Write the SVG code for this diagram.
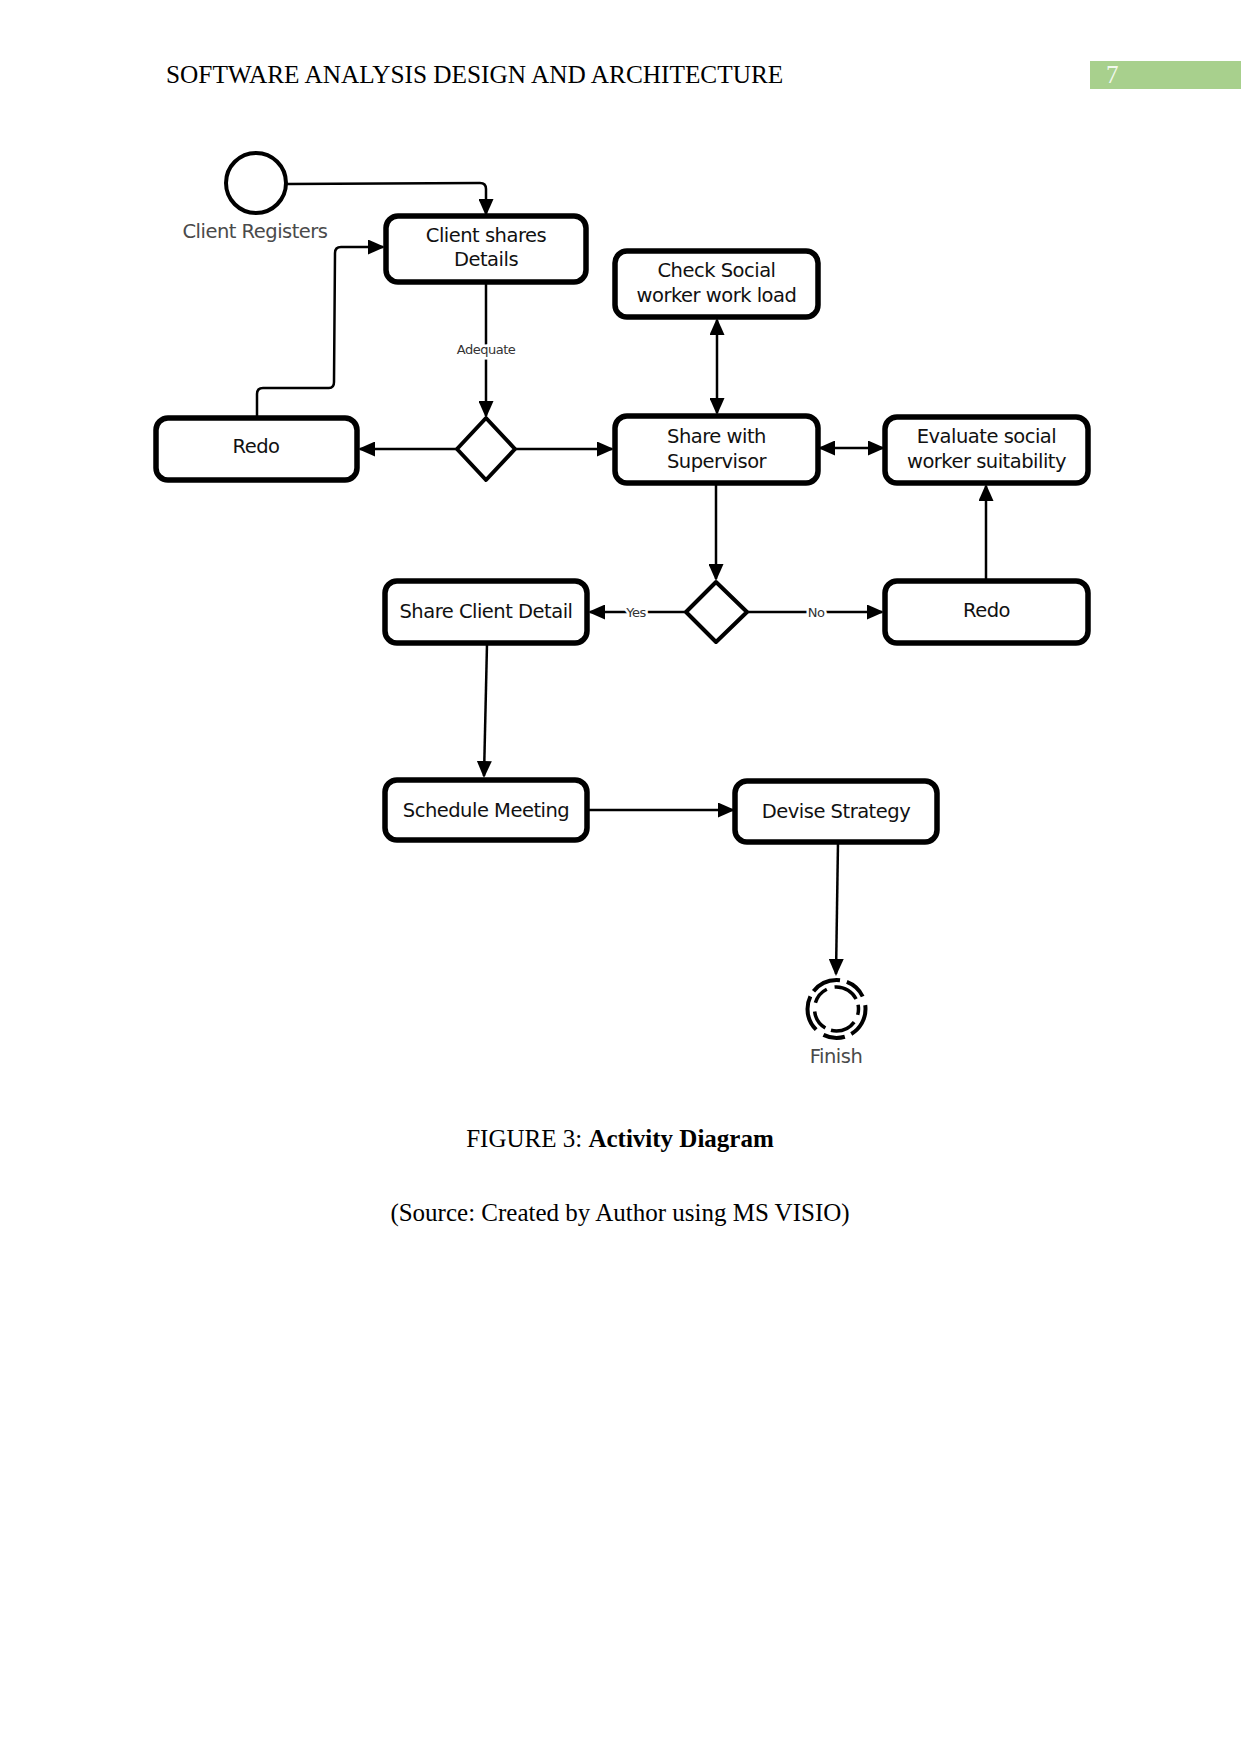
<svg xmlns="http://www.w3.org/2000/svg" width="1241" height="1754" viewBox="0 0 1241 1754">
<style>
.page{fill:#ffffff}
.hdr{font-family:"Liberation Serif","Times New Roman",serif;font-size:25.3px;fill:#000}
.cap{font-family:"Liberation Serif","Times New Roman",serif;font-size:25px;fill:#000;text-anchor:middle}
.box{fill:#fff;stroke:#000;stroke-width:5.5;stroke-linejoin:round}
.dia{fill:#fff;stroke:#000;stroke-width:4;stroke-linejoin:round}
.lbl{font-family:"DejaVu Sans",Verdana,sans-serif;font-size:19.5px;letter-spacing:-0.5px;fill:#111;text-anchor:middle}
.glbl{font-family:"DejaVu Sans",Verdana,sans-serif;font-size:19.5px;letter-spacing:-0.5px;fill:#4a4a4a;text-anchor:middle}
.small{font-family:"DejaVu Sans",Verdana,sans-serif;font-size:13px;letter-spacing:-0.5px;fill:#333;text-anchor:middle;paint-order:stroke;stroke:#fff;stroke-width:5px}
.ln{fill:none;stroke:#000;stroke-width:2.5;stroke-linejoin:round;stroke-linecap:butt}
.arr{marker-end:url(#ah)}
.bi{marker-end:url(#ah);marker-start:url(#ah)}
</style>
<defs>
<marker id="ah" viewBox="0 0 17 15" refX="15" refY="7.5" markerWidth="17" markerHeight="15" markerUnits="userSpaceOnUse" orient="auto-start-reverse">
<path d="M0,0 L17,7.5 L0,15 z" fill="#000"/>
</marker>
</defs>
<rect class="page" x="0" y="0" width="1241" height="1754"/>

<g id="header">
<text class="hdr" x="166" y="83">SOFTWARE ANALYSIS DESIGN AND ARCHITECTURE</text>
<rect x="1090" y="61" width="151" height="28" fill="#a8d08d"/>
<text x="1106" y="83" font-family="Liberation Serif, serif" font-size="25" fill="#f2f8ee">7</text>
</g>

<g id="connectors">
<path class="ln arr" d="M287,184 L480,183 Q486,183 486,189 L486,214"/>
<path class="ln arr" d="M486,283 L486,416"/>
<path class="ln arr" d="M457,449 L360,449"/>
<path class="ln arr" d="M515,449 L612,449"/>
<path class="ln arr" d="M257,417 L257,394 Q257,388 263,388 L329,388 Q334,388 334,382 L335,253 Q335,247 341,247 L383,247"/>
<path class="ln bi" d="M717,320 L717,413"/>
<path class="ln bi" d="M820,448 L883,448"/>
<path class="ln arr" d="M716,484 L716,579"/>
<path class="ln arr" d="M686,612 L590,612"/>
<path class="ln arr" d="M747,612 L882,612"/>
<path class="ln arr" d="M986,580 L986,486"/>
<path class="ln arr" d="M487,644 L484,776"/>
<path class="ln arr" d="M587,810 L733,810"/>
<path class="ln arr" d="M838,842 L836,974"/>
<text class="small" x="486" y="354">Adequate</text>
<text class="small" x="636" y="617">Yes</text>
<text class="small" x="816" y="617">No</text>
</g>

<g id="start">
<circle cx="256" cy="183" r="30" fill="#fff" stroke="#000" stroke-width="4"/>
<text class="glbl" x="255" y="238">Client Registers</text>
</g>

<g id="client-shares">
<rect class="box" x="386" y="216" width="200" height="66" rx="12"/>
<text class="lbl" x="486" y="242">Client shares</text>
<text class="lbl" x="486" y="266">Details</text>
</g>

<g id="check-social">
<rect class="box" x="615" y="251" width="203" height="66" rx="12"/>
<text class="lbl" x="716.5" y="277">Check Social</text>
<text class="lbl" x="716.5" y="302">worker work load</text>
</g>

<g id="redo-left">
<rect class="box" x="156" y="418" width="201" height="62" rx="12"/>
<text class="lbl" x="256" y="453">Redo</text>
</g>

<g id="decision-1">
<polygon class="dia" points="486,418 515,449 486,480 457,449"/>
</g>

<g id="share-supervisor">
<rect class="box" x="615" y="416" width="203" height="67" rx="12"/>
<text class="lbl" x="716.5" y="443">Share with</text>
<text class="lbl" x="716.5" y="468">Supervisor</text>
</g>

<g id="evaluate">
<rect class="box" x="885" y="417" width="203" height="66" rx="12"/>
<text class="lbl" x="986.5" y="443">Evaluate social</text>
<text class="lbl" x="986.5" y="468">worker suitability</text>
</g>

<g id="decision-2">
<polygon class="dia" points="716,582 747,612 716,642 686,612"/>
</g>

<g id="share-client-detail">
<rect class="box" x="385" y="581" width="202" height="62" rx="12"/>
<text class="lbl" x="486" y="618">Share Client Detail</text>
</g>

<g id="redo-right">
<rect class="box" x="885" y="581" width="203" height="62" rx="12"/>
<text class="lbl" x="986.5" y="617">Redo</text>
</g>

<g id="schedule-meeting">
<rect class="box" x="385" y="780" width="202" height="60" rx="12"/>
<text class="lbl" x="486" y="817">Schedule Meeting</text>
</g>

<g id="devise-strategy">
<rect class="box" x="735" y="781" width="202" height="61" rx="12"/>
<text class="lbl" x="836" y="818">Devise Strategy</text>
</g>

<g id="finish">
<circle cx="836.5" cy="1009" r="29" fill="none" stroke="#000" stroke-width="4" stroke-dasharray="30 7 22 9 36 6"/>
<circle cx="836.5" cy="1009" r="22" fill="none" stroke="#000" stroke-width="3.5" stroke-dasharray="18 8 26 6 20 9" stroke-dashoffset="12"/>
<text class="glbl" x="836" y="1063">Finish</text>
</g>

<g id="caption">
<text class="cap" x="620" y="1147">FIGURE 3: <tspan font-weight="bold">Activity Diagram</tspan></text>
<text class="cap" x="620" y="1221">(Source: Created by Author using MS VISIO)</text>
</g>
</svg>
